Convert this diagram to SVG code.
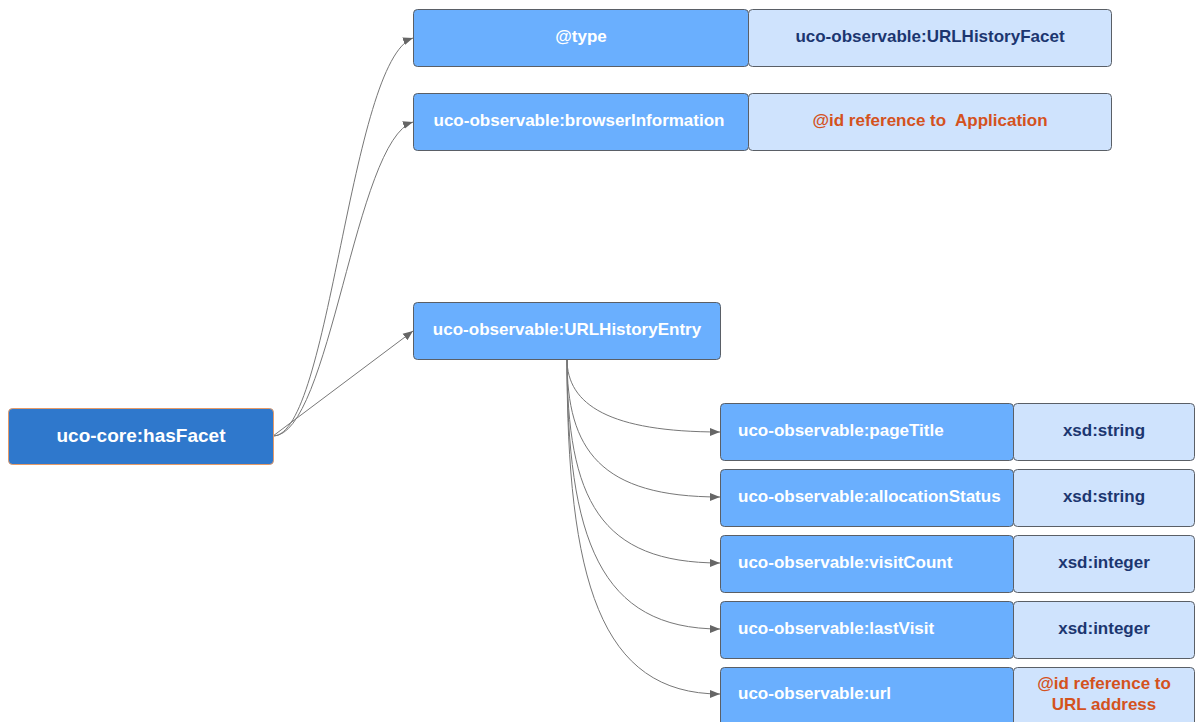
<svg xmlns="http://www.w3.org/2000/svg" width="1195" height="722" viewBox="0 0 1195 722">
  <style>
    .root { fill: #2f78cc; stroke: #e49a68; stroke-width: 1; }
    .prop { fill: #6aaffe; stroke: #5a5f66; stroke-width: 1; }
    .val { fill: #cfe3fd; stroke: #5a5f66; stroke-width: 1; }
    text { font-family: "Liberation Sans", Arial, sans-serif; font-weight: bold; font-size: 17px; dominant-baseline: central; }
    .w { fill: #ffffff; }
    .n { fill: #1c3670; text-anchor: middle; }
    .o { fill: #d4521d; text-anchor: middle; }
    .c { text-anchor: middle; }
    .edge { fill: none; stroke: #777777; stroke-width: 1; marker-end: url(#arrow); }
  </style>
  <defs>
    <marker id="arrow" viewBox="0 0 10 10" refX="10" refY="5" markerWidth="10" markerHeight="10" markerUnits="userSpaceOnUse" orient="auto">
      <path d="M0,1 L10,5 L0,9 Z" fill="#666666"/>
    </marker>
  </defs>
  <rect width="1195" height="722" fill="#ffffff"/>

  <g id="connectors">
    <path class="edge" d="M273,436 C330,436 350,60 413,38"/>
    <path class="edge" d="M273,436 C330,436 355,140 413,122"/>
    <path class="edge" d="M273,436 L413,331"/>
    <path class="edge" d="M567,359 C567,405 610,432 720,432"/>
    <path class="edge" d="M567,359 C567,450 600,497 720,497"/>
    <path class="edge" d="M567,359 C567,500 600,563 720,563"/>
    <path class="edge" d="M567,359 C567,540 600,629 720,629"/>
    <path class="edge" d="M567,359 C567,580 600,694 720,694"/>
  </g>

  <g id="hasFacet">
    <rect class="root" x="8.5" y="408.5" width="265" height="56" rx="4"/>
    <text class="w c" x="141" y="435" style="font-size:19px">uco-core:hasFacet</text>
  </g>

  <g id="type">
    <rect class="prop" x="413.5" y="9.5" width="335" height="57" rx="4"/>
    <text class="w c" x="581" y="36">@type</text>
  </g>
  <g id="type-value">
    <rect class="val" x="748.5" y="9.5" width="363" height="57" rx="4"/>
    <text class="n" x="930" y="36">uco-observable:URLHistoryFacet</text>
  </g>

  <g id="browserInformation">
    <rect class="prop" x="413.5" y="93.5" width="335" height="57" rx="4"/>
    <text class="w c" x="579" y="120">uco-observable:browserInformation</text>
  </g>
  <g id="browserInformation-value">
    <rect class="val" x="748.5" y="93.5" width="363" height="57" rx="4"/>
    <text class="o" x="930" y="120" xml:space="preserve">@id reference to  Application</text>
  </g>

  <g id="URLHistoryEntry">
    <rect class="prop" x="413.5" y="302.5" width="307" height="57" rx="4"/>
    <text class="w c" x="567" y="329">uco-observable:URLHistoryEntry</text>
  </g>

  <g id="pageTitle">
    <rect class="prop" x="720.5" y="403.5" width="293" height="57" rx="4"/>
    <text class="w" x="738" y="430">uco-observable:pageTitle</text>
  </g>
  <g id="pageTitle-value">
    <rect class="val" x="1013.5" y="403.5" width="181" height="57" rx="4"/>
    <text class="n" x="1104" y="430">xsd:string</text>
  </g>

  <g id="allocationStatus">
    <rect class="prop" x="720.5" y="469.5" width="293" height="57" rx="4"/>
    <text class="w" x="738" y="496">uco-observable:allocationStatus</text>
  </g>
  <g id="allocationStatus-value">
    <rect class="val" x="1013.5" y="469.5" width="181" height="57" rx="4"/>
    <text class="n" x="1104" y="496">xsd:string</text>
  </g>

  <g id="visitCount">
    <rect class="prop" x="720.5" y="535.5" width="293" height="57" rx="4"/>
    <text class="w" x="738" y="562">uco-observable:visitCount</text>
  </g>
  <g id="visitCount-value">
    <rect class="val" x="1013.5" y="535.5" width="181" height="57" rx="4"/>
    <text class="n" x="1104" y="562">xsd:integer</text>
  </g>

  <g id="lastVisit">
    <rect class="prop" x="720.5" y="601.5" width="293" height="57" rx="4"/>
    <text class="w" x="738" y="628">uco-observable:lastVisit</text>
  </g>
  <g id="lastVisit-value">
    <rect class="val" x="1013.5" y="601.5" width="181" height="57" rx="4"/>
    <text class="n" x="1104" y="628">xsd:integer</text>
  </g>

  <g id="url">
    <rect class="prop" x="720.5" y="667.5" width="293" height="60" rx="4"/>
    <text class="w" x="738" y="693">uco-observable:url</text>
  </g>
  <g id="url-value">
    <rect class="val" x="1013.5" y="667.5" width="181" height="60" rx="4"/>
    <text class="o" x="1104" y="683">@id reference to</text>
    <text class="o" x="1104" y="704">URL address</text>
  </g>
</svg>
